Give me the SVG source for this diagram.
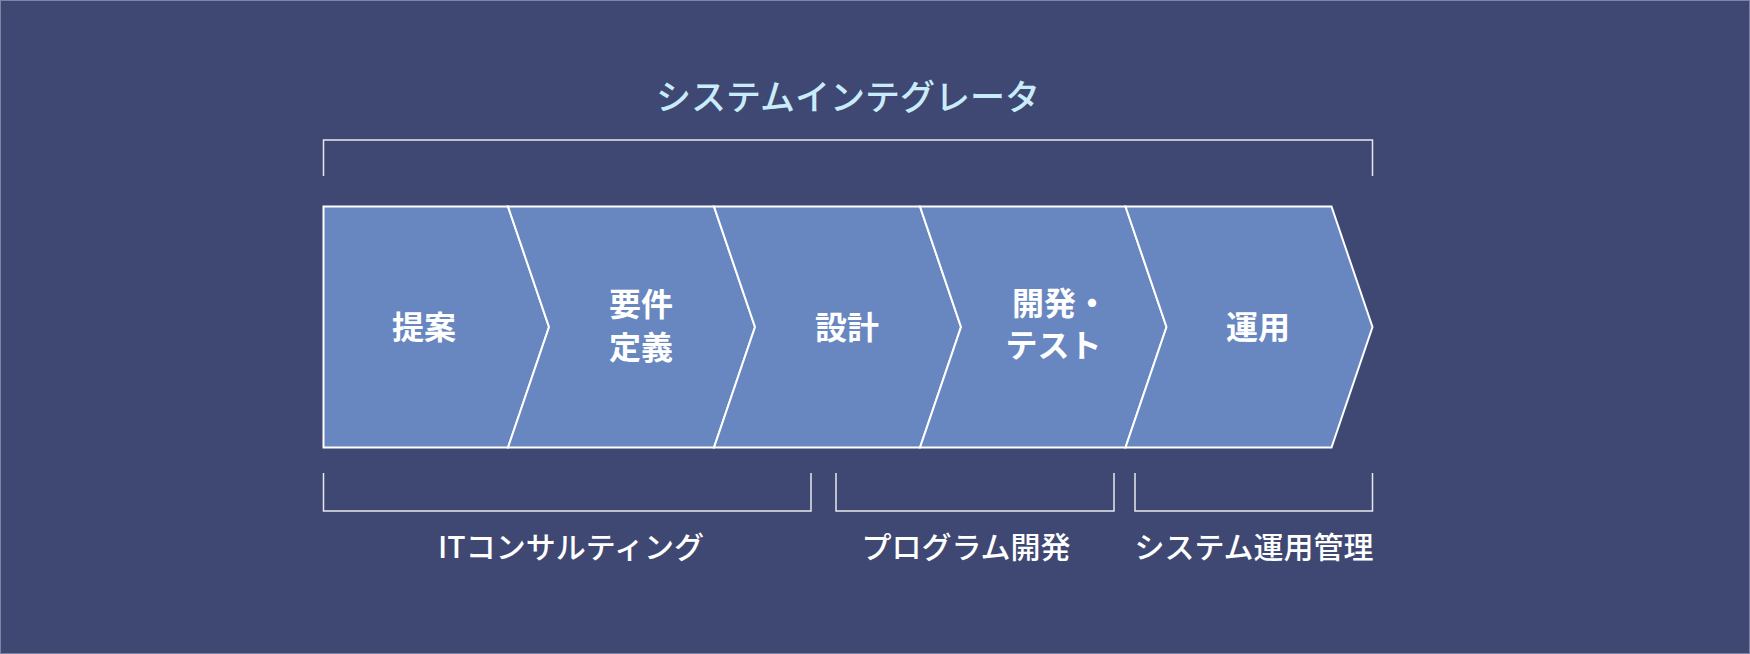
<svg xmlns="http://www.w3.org/2000/svg" width="1750" height="654" viewBox="0 0 1750 654">
<style>
.bg{fill:#3e4872;stroke:#7d84a6;stroke-width:1}
.chev{fill:#6887c0;stroke:#ffffff;stroke-width:2;stroke-linejoin:miter}
.lbl{font-family:"Noto Sans CJK JP","Noto Sans",sans-serif;font-size:32px;font-weight:700;fill:#ffffff;text-anchor:middle}
.title{font-family:"Noto Sans CJK JP","Noto Sans",sans-serif;font-size:35px;font-weight:500;fill:#c9ecfb;text-anchor:middle}
.sub{font-family:"Noto Sans CJK JP","Noto Sans",sans-serif;font-size:30px;font-weight:500;fill:#ffffff;text-anchor:middle}
.br{fill:none;stroke:#e8e8ee;stroke-width:1.5}
</style>
<rect class="bg" x="0.5" y="0.5" width="1749" height="653"/>
<g id="title"><text class="title" x="848" y="110">システムインテグレータ</text></g>
<g id="connectors">
<path class="br" d="M323.5,176 V140 H1372.5 V176"/>
<path class="br" d="M323.5,473 V511 H811 V473"/>
<path class="br" d="M836,473 V511 H1114 V473"/>
<path class="br" d="M1135,473 V511 H1372.5 V473"/>
</g>
<g id="step1"><polygon class="chev" points="323.5,206.5 508,206.5 549,327 508,447.5 323.5,447.5"/><text class="lbl" x="424" y="338.5">提案</text></g>
<g id="step2"><polygon class="chev" points="508,206.5 714,206.5 755,327 714,447.5 508,447.5 549,327"/><text class="lbl" x="641" y="316">要件</text><text class="lbl" x="641" y="358.5">定義</text></g>
<g id="step3"><polygon class="chev" points="714,206.5 920,206.5 961,327 920,447.5 714,447.5 755,327"/><text class="lbl" x="847" y="338.5">設計</text></g>
<g id="step4"><polygon class="chev" points="920,206.5 1125.5,206.5 1166.5,327 1125.5,447.5 920,447.5 961,327"/><text class="lbl" x="1060" y="315">開発・</text><text class="lbl" x="1053.5" y="357">テスト</text></g>
<g id="step5"><polygon class="chev" points="1125.5,206.5 1331.5,206.5 1372.5,327 1331.5,447.5 1125.5,447.5 1166.5,327"/><text class="lbl" x="1258" y="338.5">運用</text></g>
<g id="group1"><text class="sub" x="571" y="558">ITコンサルティング</text></g>
<g id="group2"><text class="sub" x="966" y="558">プログラム開発</text></g>
<g id="group3"><text class="sub" x="1254" y="558">システム運用管理</text></g>
</svg>
